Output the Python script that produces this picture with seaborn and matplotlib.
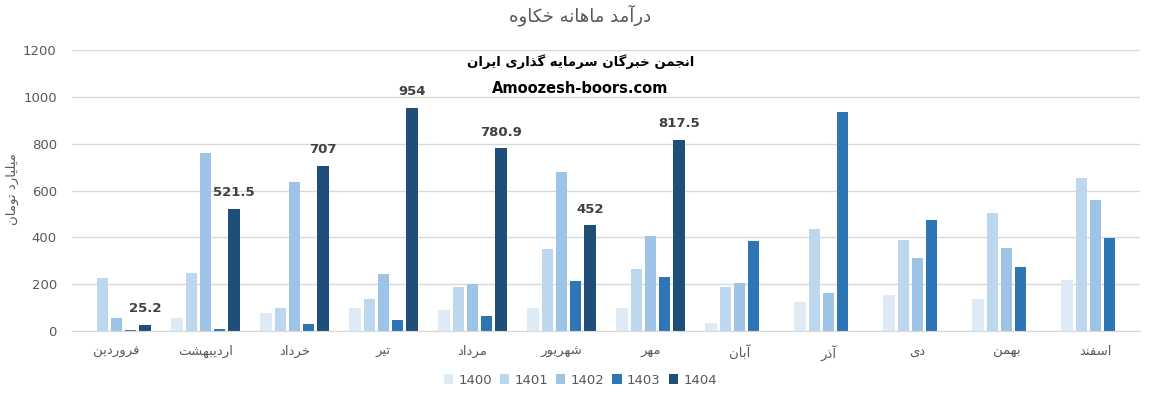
import numpy as np
import pandas as pd
import matplotlib
matplotlib.use('Agg')
import matplotlib.pyplot as plt
import seaborn as sns

# data
months = ['فروردین', 'اردیبهشت', 'خرداد', 'تیر', 'مرداد', 'شهریور',
          'مهر', 'آبان', 'آذر', 'دی', 'بهمن', 'اسفند']
years = ['1400', '1401', '1402', '1403', '1404']
y1400 = [np.nan, 56, 77, 98, 90, 98, 98, 34, 124, 154, 137, 218]
y1401 = [227, 247, 98, 137, 188, 351, 265, 188, 436, 389, 505, 655]
y1402 = [56, 762, 638, 244, 201, 680, 406, 205, 162, 312, 355, 560]
y1403 = [5, 9, 30, 47, 64, 214, 231, 385, 937, 475, 274, 398]
y1404 = [25.2, 521.5, 707, 954, 780.9, 452, 817.5, np.nan, np.nan, np.nan, np.nan, np.nan]
colors = ['#DEEBF7', '#BDD7EE', '#9DC3E6', '#2E75B6', '#1F4E79']

title = 'درآمد ماهانه خکاوه'
ylabel = 'میلیارد تومان'
mark1 = 'انجمن خبرگان سرمایه گذاری ایران'
mark2 = 'Amoozesh-boors.com'

# small persian shaper: matplotlib does no arabic joining / bidi
FORMS = {
    'ا': 'ﺍﺎ', 'آ': 'ﺁﺂ', 'د': 'ﺩﺪ', 'ذ': 'ﺫﺬ', 'ر': 'ﺭﺮ', 'ز': 'ﺯﺰ',
    'ژ': 'ﮊﮋ', 'و': 'ﻭﻮ',
    'ب': 'ﺏﺐﺑﺒ', 'پ': 'ﭖﭗﭘﭙ', 'ت': 'ﺕﺖﺗﺘ', 'ث': 'ﺙﺚﺛﺜ',
    'ج': 'ﺝﺞﺟﺠ', 'چ': 'ﭺﭻﭼﭽ', 'ح': 'ﺡﺢﺣﺤ', 'خ': 'ﺥﺦﺧﺨ',
    'س': 'ﺱﺲﺳﺴ', 'ش': 'ﺵﺶﺷﺸ', 'ص': 'ﺹﺺﺻﺼ', 'ض': 'ﺽﺾﺿﻀ',
    'ط': 'ﻁﻂﻃﻄ', 'ظ': 'ﻅﻆﻇﻈ', 'ع': 'ﻉﻊﻋﻌ', 'غ': 'ﻍﻎﻏﻐ',
    'ف': 'ﻑﻒﻓﻔ', 'ق': 'ﻕﻖﻗﻘ', 'ک': 'ﮎﮏﮐﮑ', 'گ': 'ﮒﮓﮔﮕ',
    'ل': 'ﻝﻞﻟﻠ', 'م': 'ﻡﻢﻣﻤ', 'ن': 'ﻥﻦﻧﻨ', 'ه': 'ﻩﻪﻫﻬ',
    'ی': 'ﯼﯽﯾﯿ', 'ي': 'ﻱﻲﻳﻴ',
}


def fa(s):
    out = []
    for i, c in enumerate(s):
        if c not in FORMS:
            out.append(c)
            continue
        f = FORMS[c]
        prev = s[i - 1] if i > 0 else ''
        nxt = s[i + 1] if i + 1 < len(s) else ''
        jp = prev in FORMS and len(FORMS[prev]) == 4
        jn = nxt in FORMS and len(f) == 4
        if jp and jn:
            out.append(f[3])
        elif jp:
            out.append(f[1])
        elif jn:
            out.append(f[2])
        else:
            out.append(f[0])
    return ''.join(out)[::-1]


df = pd.DataFrame({'month': months, '1400': y1400, '1401': y1401, '1402': y1402,
                   '1403': y1403, '1404': y1404})
df = df.melt(id_vars='month', var_name='year', value_name='value')
df['month'] = df['month'].map(fa)

sns.set_style('white')
plt.rcParams['font.family'] = ['DejaVu Sans']
plt.rcParams['ytick.major.pad'] = 11
plt.rcParams['xtick.major.pad'] = 10

fig = plt.figure(figsize=(11.51, 4.03), dpi=100)
ax = fig.add_axes([0.0626, 0.1787, 0.9278, 0.696])

sns.barplot(data=df, x='month', y='value', hue='year', hue_order=years,
            order=[fa(m) for m in months], palette=colors, width=0.8, gap=0.2,
            saturation=1, linewidth=0, ax=ax, legend=True)

ax.set_ylim(0, 1200)
ax.set_xlim(-0.5, 11.5)
ax.set_yticks(range(0, 1201, 200))
ax.yaxis.grid(True, color='#D9D9D9', linewidth=1)
ax.set_axisbelow(True)
for sp in ['left', 'right', 'top']:
    ax.spines[sp].set_visible(False)
ax.spines['bottom'].set_color('#D9D9D9')
ax.tick_params(axis='both', length=0, colors='#595959', labelsize=9.5)
ax.set_xlabel('')
ax.set_ylabel('')

# data labels on 1404 bars
c = ax.containers[4]
labels = ['' if np.isnan(b.get_height()) else f'{b.get_height():g}' for b in c]
ax.bar_label(c, labels=labels, padding=7, fontsize=9.5, fontweight='bold',
             color='#404040')

fig.text(0.504, 0.963, fa(title), ha='center', va='center', fontsize=13,
         color='#595959')
fig.text(0.011, 0.53, fa(ylabel), rotation=90, ha='center', va='center',
         fontsize=9.5, color='#595959')
ax.text(0.476, 0.959, fa(mark1), transform=ax.transAxes, ha='center',
        va='center', fontsize=9.5, fontweight='bold', color='black')
ax.text(0.476, 0.866, mark2, transform=ax.transAxes, ha='center',
        va='center', fontsize=10.5, fontweight='bold', color='black')

ax.legend(loc='center', bbox_to_anchor=(0.476, -0.175), ncol=5, frameon=False,
          handlelength=0.7, handleheight=0.7, handletextpad=0.4,
          columnspacing=0.6, fontsize=9.5, labelcolor='#595959')

fig.savefig('out.png', dpi=100, facecolor='white')
